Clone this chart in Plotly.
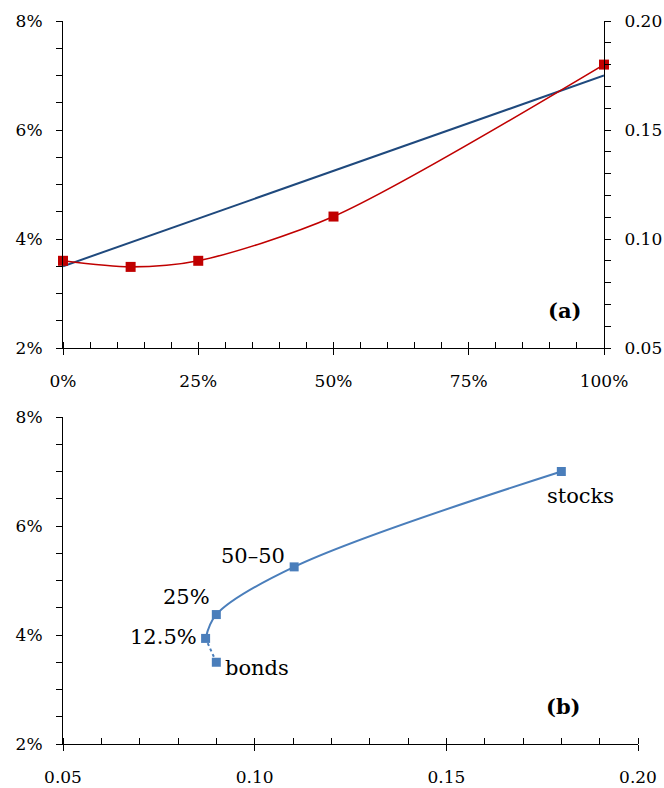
import plotly.graph_objects as go

# Data
weights = [0.0, 0.125, 0.25, 0.5, 1.0]            # share in stocks
exp_return = [0.035, 0.039375, 0.04375, 0.0525, 0.07]
std_dev = [0.09, 0.0872, 0.09, 0.1103, 0.18]
point_labels = ["bonds", "12.5%", "25%", "50–50", "stocks"]
weight_ticks = [0, 0.25, 0.5, 0.75, 1.0]
return_ticks = [0.02, 0.04, 0.06, 0.08]
sd_ticks = [0.05, 0.10, 0.15, 0.20]

FONT = "DejaVu Serif"
BLUE_DARK = "#1F497D"
RED = "#C00000"
BLUE = "#4A7EBB"

W, H = 664, 788


def xd(a, b):
    return [a / W, b / W]


def yd(top, bottom):
    return [(H - bottom) / H, (H - top) / H]


fig = go.Figure()

# ---- panel (a)
fig.add_trace(go.Scatter(x=weights, y=exp_return, mode="lines",
                         line=dict(color=BLUE_DARK, width=2),
                         xaxis="x", yaxis="y", cliponaxis=False, showlegend=False))
fig.add_trace(go.Scatter(x=weights, y=std_dev, mode="lines+markers",
                         line=dict(color=RED, width=1.6, shape="spline", smoothing=0.8),
                         marker=dict(symbol="square", size=10, color=RED),
                         xaxis="x", yaxis="y2", cliponaxis=False, showlegend=False))

# ---- panel (b)
fig.add_trace(go.Scatter(x=std_dev[:2], y=exp_return[:2], mode="lines",
                         line=dict(color=BLUE, width=2, dash="dot"),
                         xaxis="x3", yaxis="y3", cliponaxis=False, showlegend=False))
fig.add_trace(go.Scatter(x=std_dev[1:], y=exp_return[1:], mode="lines",
                         line=dict(color=BLUE, width=2, shape="spline", smoothing=1.0),
                         xaxis="x3", yaxis="y3", cliponaxis=False, showlegend=False))
fig.add_trace(go.Scatter(x=std_dev, y=exp_return, mode="markers",
                         marker=dict(symbol="square", size=9, color=BLUE),
                         xaxis="x3", yaxis="y3", cliponaxis=False, showlegend=False))

tickfont = dict(family=FONT, size=17, color="black")
common = dict(showgrid=False, zeroline=False, showline=True, linecolor="black",
              linewidth=1, tickcolor="black", tickfont=tickfont, ticklen=6, tickwidth=1,
              automargin=False)
# inner halves of the major ticks (so that major ticks cross the axis line)
inner = dict(showgrid=False, zeroline=False, showline=False, showticklabels=False,
             ticks="inside", ticklen=6, tickwidth=1, tickcolor="black", automargin=False)

fig.update_layout(
    width=W, height=H, margin=dict(l=0, r=0, t=0, b=0, autoexpand=False),
    plot_bgcolor="white", paper_bgcolor="white",
    xaxis=dict(common, domain=xd(63, 604), range=[0, 1], tickvals=weight_ticks,
               tickformat=".0%", ticks="outside", anchor="y", ticklabelstandoff=12,
               minor=dict(dtick=0.05, ticks="inside", ticklen=6, tickcolor="black", showgrid=False)),
    yaxis=dict(common, domain=yd(21, 348), range=[0.02, 0.08], tickvals=return_ticks,
               tickformat=".0%", ticks="outside", anchor="x", ticklabelstandoff=10,
               minor=dict(dtick=0.005, ticks="outside", ticklen=6, tickcolor="black", showgrid=False)),
    yaxis2=dict(common, domain=yd(21, 348), range=[0.05, 0.20], tickvals=sd_ticks,
                tickformat=".2f", ticks="outside", overlaying="y", side="right", anchor="x",
                ticklabelstandoff=10,
                minor=dict(dtick=0.01, ticks="outside", ticklen=6, tickcolor="black", showgrid=False)),
    xaxis3=dict(common, domain=xd(63, 638), range=[0.05, 0.20], tickvals=sd_ticks,
                tickformat=".2f", ticks="outside", anchor="y3", ticklabelstandoff=12,
                minor=dict(dtick=0.01, ticks="inside", ticklen=6, tickcolor="black", showgrid=False)),
    yaxis3=dict(common, domain=yd(417, 744), range=[0.02, 0.08], tickvals=return_ticks,
                tickformat=".0%", ticks="outside", anchor="x3", ticklabelstandoff=10,
                minor=dict(dtick=0.005, ticks="outside", ticklen=6, tickcolor="black", showgrid=False)),
    xaxis4=dict(inner, overlaying="x", anchor="y", range=[0, 1], tickvals=weight_ticks),
    xaxis5=dict(inner, overlaying="x3", anchor="y3", range=[0.05, 0.20], tickvals=sd_ticks),
    yaxis4=dict(inner, overlaying="y", anchor="x", side="left", range=[0.02, 0.08],
                tickvals=return_ticks),
    yaxis5=dict(inner, overlaying="y", anchor="x", side="right", range=[0.05, 0.20],
                tickvals=sd_ticks),
    yaxis6=dict(inner, overlaying="y3", anchor="x3", side="left", range=[0.02, 0.08],
                tickvals=return_ticks),
)

labfont = dict(family=FONT, size=21, color="black")
placements = {
    "bonds": dict(xanchor="left", yanchor="middle", xshift=7, yshift=-6),
    "12.5%": dict(xanchor="right", yanchor="middle", xshift=-7, yshift=1),
    "25%": dict(xanchor="right", yanchor="middle", xshift=-4, yshift=18),
    "50–50": dict(xanchor="right", yanchor="middle", xshift=-7, yshift=11),
    "stocks": dict(xanchor="center", yanchor="middle", xshift=19, yshift=-24),
}
for sx, ry, lab in zip(std_dev, exp_return, point_labels):
    fig.add_annotation(x=sx, y=ry, xref="x3", yref="y3", text=lab, showarrow=False,
                       font=labfont, **placements[lab])

boldfont = dict(family=FONT, size=21, color="black")
fig.add_annotation(x=0.961, y=0.116, xref="x domain", yref="y domain", text="<b>(a)</b>",
                   showarrow=False, font=boldfont, xanchor="right", yanchor="middle")
fig.add_annotation(x=0.904, y=0.116, xref="x3 domain", yref="y3 domain", text="<b>(b)</b>",
                   showarrow=False, font=boldfont, xanchor="right", yanchor="middle")

fig.write_html("out.html", config={"displayModeBar": False},
               post_script="document.body.style.margin='0';document.body.style.overflow='hidden';")
